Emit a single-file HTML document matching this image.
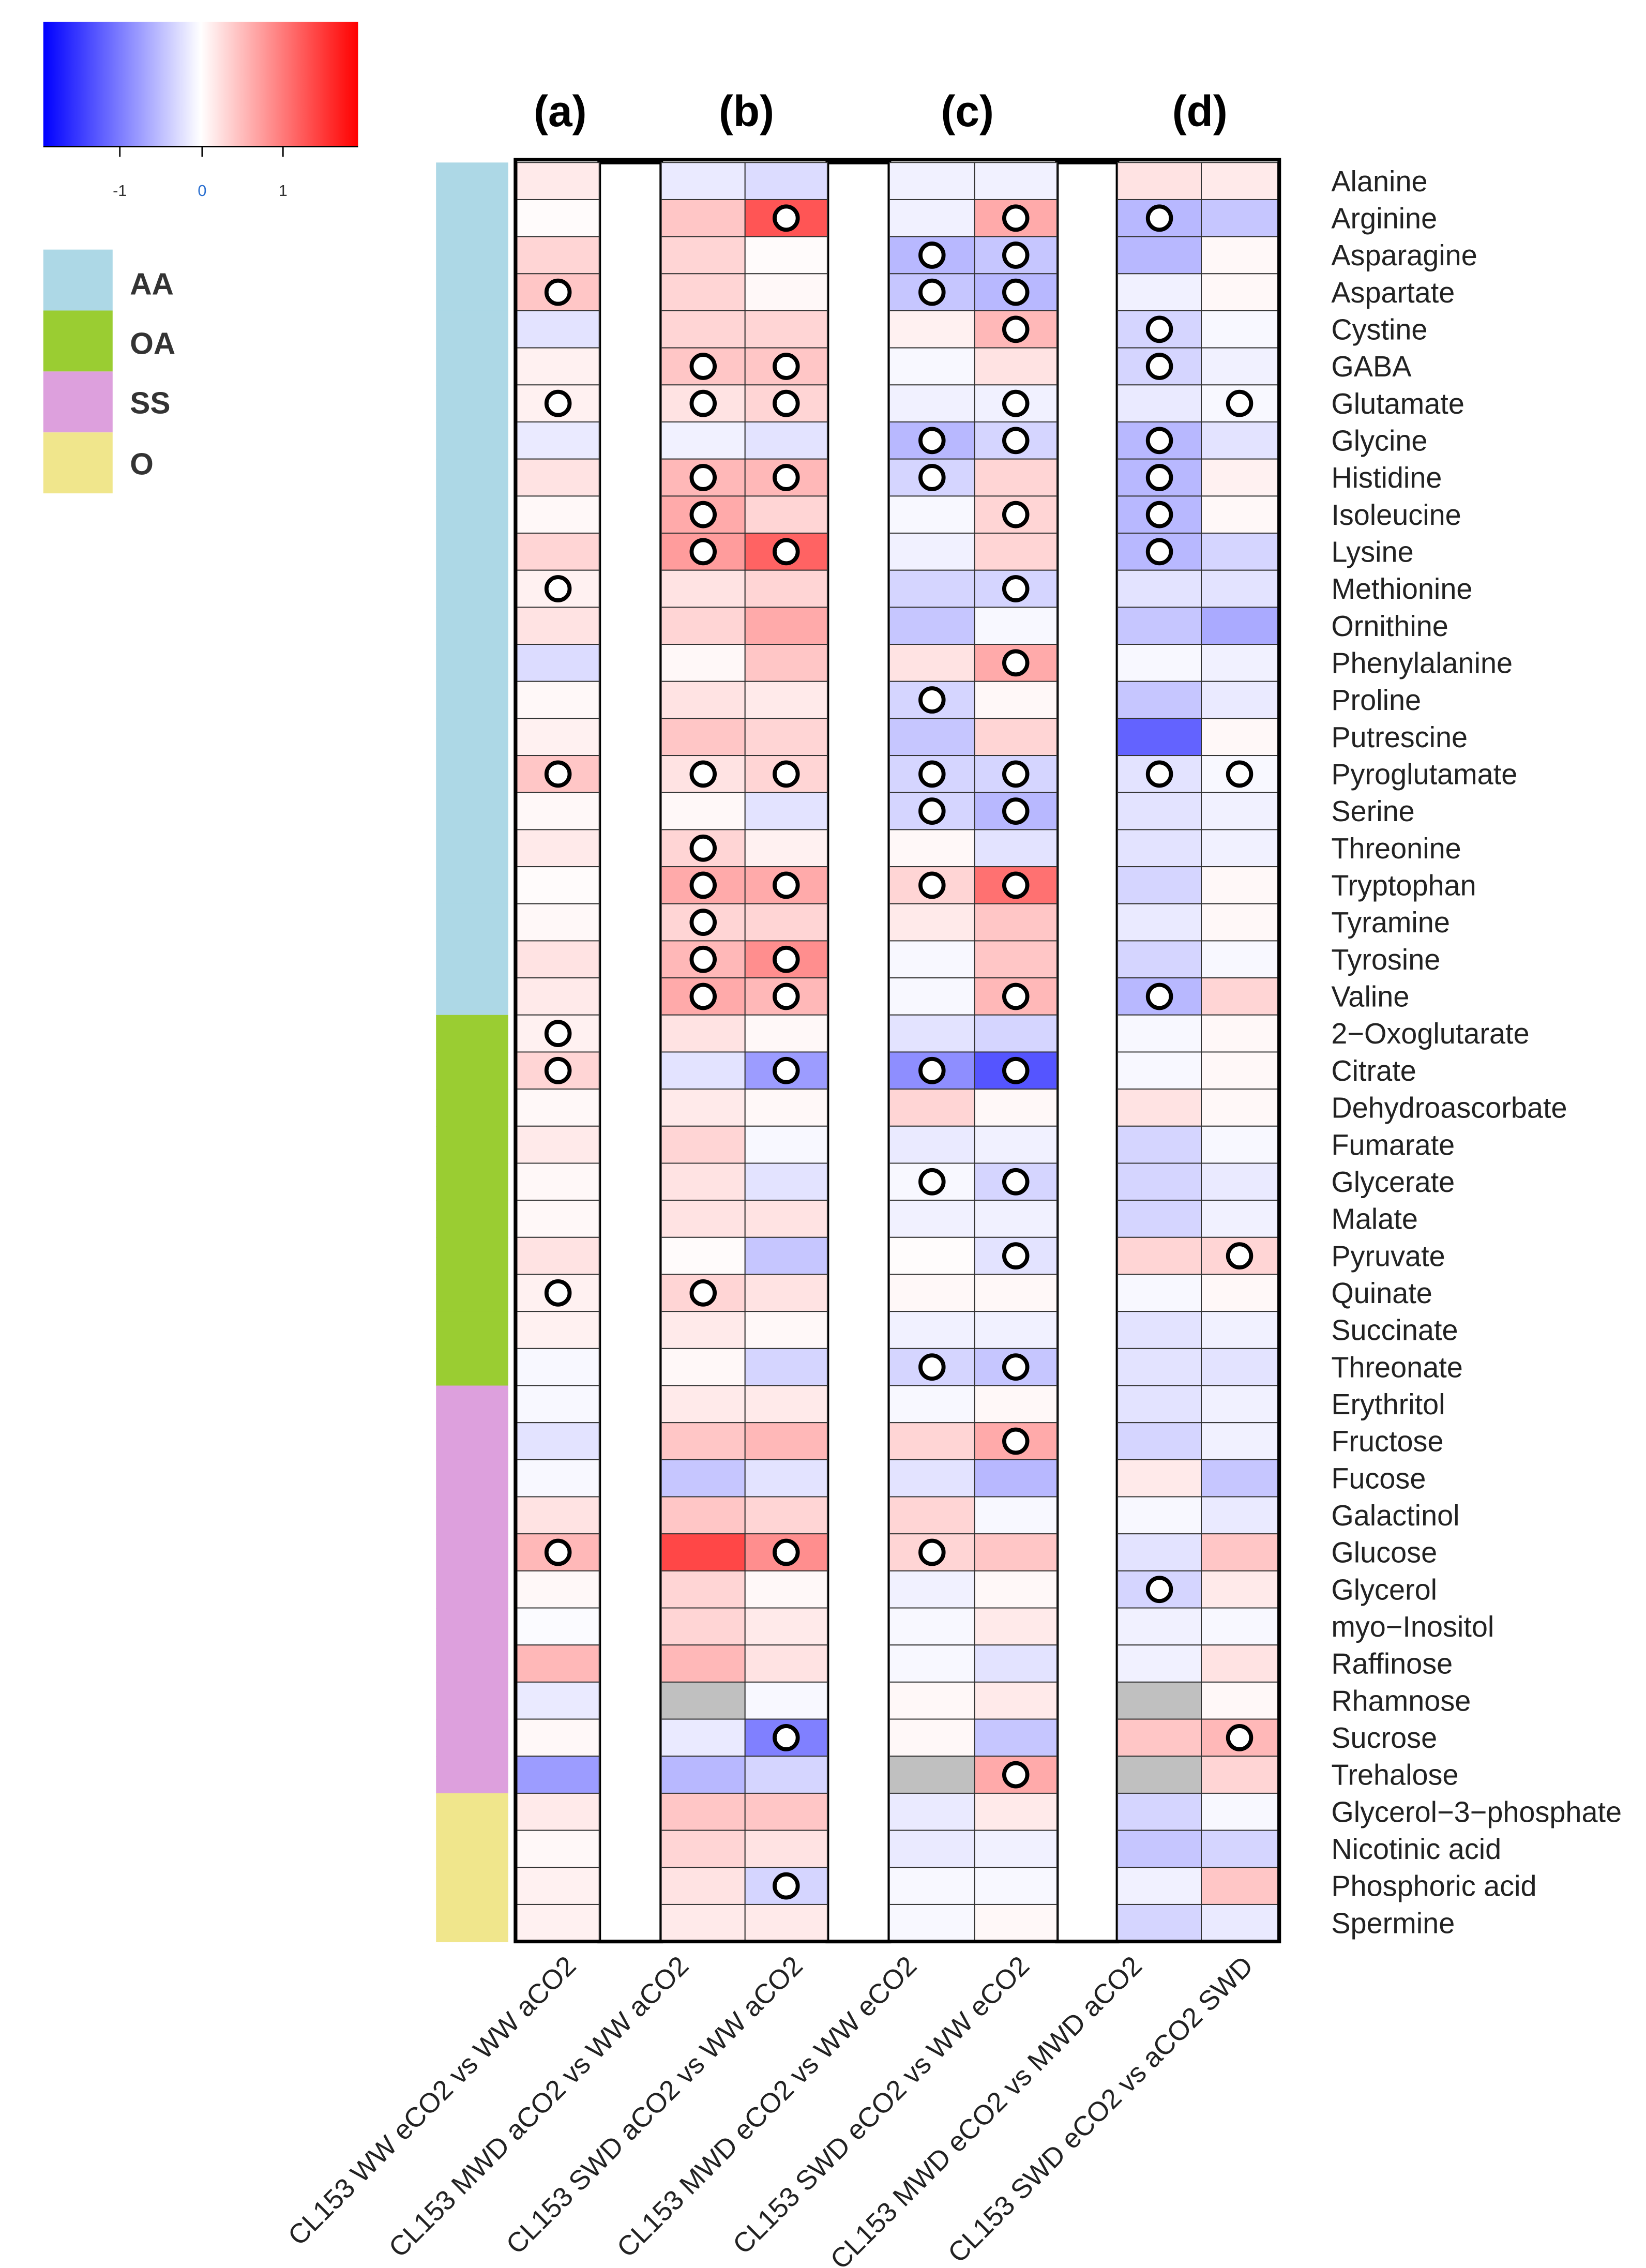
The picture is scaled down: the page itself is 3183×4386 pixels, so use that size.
<!DOCTYPE html>
<html><head><meta charset="utf-8"><style>
html,body{margin:0;padding:0;background:#fff;}
svg{display:block;}
text{font-family:"Liberation Sans",sans-serif;}
</style></head><body>
<svg id="chart" width="3183" height="4386" viewBox="0 0 1140 1563" preserveAspectRatio="none" xmlns="http://www.w3.org/2000/svg">
<defs><linearGradient id="cb" x1="0" x2="1" y1="0" y2="0">
<stop offset="0" stop-color="#0000ff"/><stop offset="0.5" stop-color="#ffffff"/><stop offset="1" stop-color="#ff0000"/></linearGradient></defs>
<g>
<rect x="30" y="15" width="218" height="86" fill="url(#cb)"/>
<line x1="30" y1="101" x2="248" y2="101" stroke="#000" stroke-width="1"/>
<line x1="83" y1="101" x2="83" y2="108" stroke="#000"/><line x1="140" y1="101" x2="140" y2="108" stroke="#000"/><line x1="196" y1="101" x2="196" y2="108" stroke="#000"/>
<text x="83" y="135" font-size="11" text-anchor="middle" fill="#333">-1</text>
<text x="140" y="135" font-size="11" text-anchor="middle" fill="#2a6fd0">0</text>
<text x="196" y="135" font-size="11" text-anchor="middle" fill="#333">1</text>
</g>
<g>
<rect x="30" y="172" width="48" height="42" fill="#add8e6"/><text x="90" y="203" font-size="21" font-weight="bold" fill="#333">AA</text>
<rect x="30" y="214" width="48" height="42" fill="#9acd32"/><text x="90" y="244" font-size="21" font-weight="bold" fill="#333">OA</text>
<rect x="30" y="256" width="48" height="42" fill="#dda0dd"/><text x="90" y="285" font-size="21" font-weight="bold" fill="#333">SS</text>
<rect x="30" y="298" width="48" height="42" fill="#f0e68c"/><text x="90" y="327" font-size="21" font-weight="bold" fill="#333">O</text>
</g>
<g id="panel-titles" font-size="30" font-weight="bold" text-anchor="middle">
<text x="388" y="87">(a)</text><text x="517" y="87">(b)</text><text x="670" y="87">(c)</text><text x="831" y="87">(d)</text>
</g>
<g id="cells"></g>
<g id="labels"></g>
</svg>
<script>
const metabolites=["Alanine","Arginine","Asparagine","Aspartate","Cystine","GABA","Glutamate","Glycine","Histidine","Isoleucine","Lysine","Methionine","Ornithine","Phenylalanine","Proline","Putrescine","Pyroglutamate","Serine","Threonine","Tryptophan","Tyramine","Tyrosine","Valine","2\u2212Oxoglutarate","Citrate","Dehydroascorbate","Fumarate","Glycerate","Malate","Pyruvate","Quinate","Succinate","Threonate","Erythritol","Fructose","Fucose","Galactinol","Glucose","Glycerol","myo\u2212Inositol","Raffinose","Rhamnose","Sucrose","Trehalose","Glycerol\u22123\u2212phosphate","Nicotinic acid","Phosphoric acid","Spermine"];
const groups=["AA","AA","AA","AA","AA","AA","AA","AA","AA","AA","AA","AA","AA","AA","AA","AA","AA","AA","AA","AA","AA","AA","AA","OA","OA","OA","OA","OA","OA","OA","OA","OA","OA","SS","SS","SS","SS","SS","SS","SS","SS","SS","SS","SS","O","O","O","O"];
const comparisons=["CL153 WW eCO2 vs WW aCO2","CL153 MWD aCO2 vs WW aCO2","CL153 SWD aCO2 vs WW aCO2","CL153 MWD eCO2 vs WW eCO2","CL153 SWD eCO2 vs WW eCO2","CL153 MWD eCO2 vs MWD aCO2","CL153 SWD eCO2 vs aCO2 SWD"];
const NA=null;
// values per comparison column (rows = metabolites)
const colA=[0.15,0.03,0.3,0.4,-0.2,0.1,0.1,-0.15,0.2,0.05,0.3,0.1,0.2,-0.25,0.05,0.1,0.4,0.05,0.15,0.03,0.05,0.2,0.15,0.1,0.3,0.05,0.15,0.05,0.05,0.2,0.1,0.1,-0.05,-0.05,-0.2,-0.05,0.2,0.5,0.05,-0.03,0.5,-0.15,0.05,-0.7,0.15,0.05,0.1,0.1];
const colB1=[-0.15,0.4,0.3,0.3,0.3,0.4,0.2,-0.1,0.5,0.6,0.7,0.2,0.3,0.05,0.2,0.4,0.2,0.05,0.3,0.6,0.3,0.5,0.6,0.2,-0.2,0.15,0.3,0.2,0.2,0.03,0.3,0.15,0.05,0.15,0.4,-0.4,0.4,1.3,0.3,0.3,0.5,NA,-0.15,-0.5,0.4,0.3,0.2,0.15];
const colB2=[-0.25,1.2,0.03,0.05,0.3,0.4,0.3,-0.2,0.5,0.3,1.1,0.3,0.6,0.4,0.15,0.3,0.3,-0.2,0.1,0.6,0.3,0.8,0.5,0.05,-0.7,0.05,-0.05,-0.2,0.2,-0.4,0.2,0.05,-0.3,0.15,0.5,-0.2,0.3,0.8,0.05,0.15,0.2,-0.05,-0.9,-0.3,0.4,0.2,-0.3,0.15];
const colC1=[-0.1,-0.1,-0.5,-0.4,0.1,-0.05,-0.1,-0.5,-0.3,-0.05,-0.1,-0.3,-0.4,0.2,-0.3,-0.4,-0.3,-0.3,0.05,0.3,0.15,-0.05,-0.05,-0.2,-0.8,0.3,-0.15,-0.05,-0.1,0.02,0.05,-0.1,-0.3,-0.05,0.3,-0.2,0.3,0.3,-0.1,-0.05,-0.05,0.05,0.05,NA,-0.15,-0.15,-0.05,-0.05];
const colC2=[-0.1,0.6,-0.4,-0.5,0.5,0.2,-0.1,-0.3,0.3,0.3,0.3,-0.3,-0.05,0.6,0.05,0.3,-0.3,-0.5,-0.2,1.0,0.4,0.4,0.5,-0.3,-1.2,0.05,-0.1,-0.3,-0.1,-0.2,0.05,-0.1,-0.4,0.05,0.6,-0.5,-0.05,0.4,0.05,0.15,-0.2,0.15,-0.4,0.6,0.15,-0.1,-0.05,0.05];
const colD1=[0.2,-0.5,-0.5,-0.1,-0.3,-0.3,-0.15,-0.5,-0.5,-0.5,-0.5,-0.2,-0.4,-0.05,-0.4,-1.1,-0.2,-0.2,-0.2,-0.3,-0.15,-0.3,-0.5,-0.05,-0.05,0.2,-0.3,-0.3,-0.3,0.3,-0.05,-0.2,-0.2,-0.2,-0.3,0.15,-0.05,-0.2,-0.3,-0.1,-0.1,NA,0.4,NA,-0.3,-0.4,-0.1,-0.3];
const colD2=[0.15,-0.4,0.05,0.05,-0.05,-0.1,-0.05,-0.2,0.1,0.05,-0.3,-0.2,-0.6,-0.1,-0.15,0.05,-0.05,-0.1,-0.1,0.05,0.05,-0.05,0.3,0.05,0.05,0.05,-0.05,-0.15,-0.1,0.3,0.05,-0.1,-0.2,-0.1,-0.1,-0.4,-0.15,0.4,0.15,-0.05,0.2,0.05,0.5,0.3,-0.05,-0.3,0.4,-0.15];
// significance markers [row, column index 0..6]
const sigMarks=[[1,2],[1,4],[1,5],[2,3],[2,4],[3,0],[3,3],[3,4],[4,4],[4,5],[5,1],[5,2],[5,5],[6,0],[6,1],[6,2],[6,4],[6,6],[7,3],[7,4],[7,5],[8,1],[8,2],[8,3],[8,5],[9,1],[9,4],[9,5],[10,1],[10,2],[10,5],[11,0],[11,4],[13,4],[14,3],[16,0],[16,1],[16,2],[16,3],[16,4],[16,5],[16,6],[17,3],[17,4],[18,1],[19,1],[19,2],[19,3],[19,4],[20,1],[21,1],[21,2],[22,1],[22,2],[22,4],[22,5],[23,0],[24,0],[24,2],[24,3],[24,4],[27,3],[27,4],[29,4],[29,6],[30,0],[30,1],[32,3],[32,4],[34,4],[37,0],[37,2],[37,3],[38,5],[42,2],[42,6],[43,4],[46,2]];
const groupColors={AA:"#add8e6",OA:"#9acd32",SS:"#dda0dd",O:"#f0e68c"};
const cols=[colA,colB1,colB2,colC1,colC2,colD1,colD2];
const colX=[[358,415],[458,516],[516,573],[616,675],[675,732],[774,832],[832,885]];
const top0=112,bottom0=1338,rowH=(bottom0-top0)/metabolites.length;
const NS="http://www.w3.org/2000/svg";
function yOf(i){return top0+i*rowH;}
function color(v){
  if(v===null)return "#c0c0c0";
  const t=Math.min(Math.abs(v)/1.8,1);const c=Math.round(255*(1-t));
  return v>=0?`rgb(255,${c},${c})`:`rgb(${c},${c},255)`;
}
function mk(tag,attrs,parent){const e=document.createElementNS(NS,tag);for(const k in attrs)e.setAttribute(k,attrs[k]);parent.appendChild(e);return e;}
const cg=document.getElementById('cells'),lg=document.getElementById('labels');
// group side bar
groups.forEach((g,i)=>{
  const r=mk('rect',{x:302,y:yOf(i),width:50,height:rowH+0.5,fill:groupColors[g]},cg);
  
  
});
// gaps
[[415,458],[573,616],[732,774]].forEach(([a,b])=>{
  const r=mk('rect',{x:a,y:top0,width:b-a,height:bottom0-top0,fill:"#fff",stroke:"#000","stroke-width":2.5},cg);
  
  
});
cols.forEach((col,j)=>{
  col.forEach((v,i)=>{
    const r=mk('rect',{x:colX[j][0],y:yOf(i),width:colX[j][1]-colX[j][0],height:rowH,fill:color(v),stroke:"#333","stroke-width":0.7},cg);
    
    
  });
});
sigMarks.forEach(([i,j])=>{
  const c=mk('circle',{cx:(colX[j][0]+colX[j][1])/2,cy:yOf(i)+rowH/2,r:8,fill:"#fff",stroke:"#000","stroke-width":2.8},cg);
  
  
});
const border=mk('rect',{x:357,y:110,width:529,height:bottom0-110,fill:"none",stroke:"#000","stroke-width":2.5},cg);


metabolites.forEach((m,i)=>{
  const t=mk('text',{x:922,y:yOf(i)+rowH/2+7,"font-size":20,fill:"#222"},lg);
  t.textContent=m;
  
  
});
const labX=[400,478,557,636,714,792,869];
comparisons.forEach((c,k)=>{
  const t=mk('text',{x:labX[k],y:1356,"font-size":19,fill:"#222","text-anchor":"end",transform:`rotate(-45 ${labX[k]} 1356)`},lg);
  t.textContent=c;
  
  
});
</script>
</body></html>
